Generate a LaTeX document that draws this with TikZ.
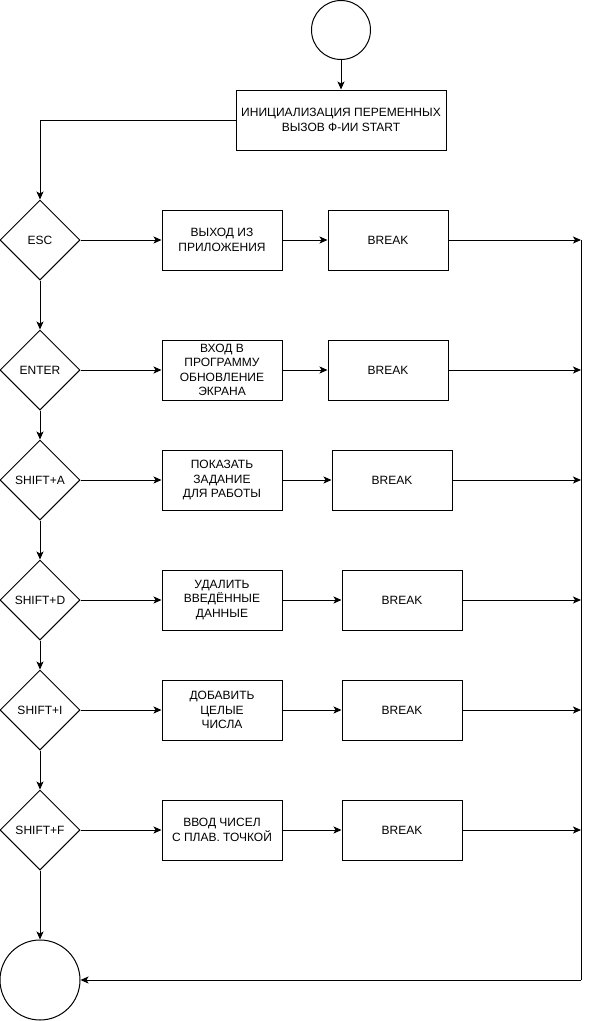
\documentclass[tikz,border=0pt]{standalone}
\usepackage{fontspec}
\setmainfont{Liberation Sans}
\usetikzlibrary{shapes.geometric,arrows.meta}
\begin{document}
\begin{tikzpicture}[x=1pt,y=-1pt,
  txt/.style={font=\fontsize{12}{14.5}\selectfont, align=center, text=black},
  terminal/.style={draw, circle, line width=1pt, inner sep=0pt},
  actbox/.style={txt, draw, rectangle, line width=1pt, minimum width=120pt, minimum height=60pt, inner sep=1pt},
  keytest/.style={txt, draw, diamond, aspect=1, line width=1pt, minimum width=80pt, minimum height=80pt, inner sep=0pt},
  flow/.style={line width=1pt, -{Stealth[length=8pt,width=7pt,inset=2pt]}},
  wire/.style={line width=1pt}
]
\useasboundingbox (0,0) rectangle (589,1021);

% start and initialisation
\node[terminal, minimum size=59pt] (start) at (341,30) {};
\node[actbox, minimum width=210pt] (init) at (341,120) {ИНИЦИАЛИЗАЦИЯ ПЕРЕМЕННЫХ\\ВЫЗОВ Ф-ИИ START};

% key tests
\node[keytest] (esc)    at (40,240) {ESC};
\node[keytest] (enter)  at (40,370) {ENTER};
\node[keytest] (shA)    at (40,480) {SHIFT+A};
\node[keytest] (shD)    at (40,600) {SHIFT+D};
\node[keytest] (shI)    at (40,710) {SHIFT+I};
\node[keytest] (shF)    at (40,830) {SHIFT+F};

% actions
\node[actbox] (aEsc)   at (222,240) {ВЫХОД ИЗ\\ПРИЛОЖЕНИЯ};
\node[actbox] (aEnter) at (222,370) {ВХОД В\\ПРОГРАММУ\\ОБНОВЛЕНИЕ\\ЭКРАНА};
\node[actbox] (aA)     at (222,480) {ПОКАЗАТЬ\\ЗАДАНИЕ\\ДЛЯ РАБОТЫ};
\node[actbox] (aD)     at (222,600) {УДАЛИТЬ\\ВВЕДЁННЫЕ\\ДАННЫЕ};
\node[actbox] (aI)     at (222,710) {ДОБАВИТЬ\\ЦЕЛЫЕ\\ЧИСЛА};
\node[actbox] (aF)     at (222,830) {ВВОД ЧИСЕЛ\\С ПЛАВ. ТОЧКОЙ};

% break boxes
\node[actbox] (bEsc)   at (388,240) {BREAK};
\node[actbox] (bEnter) at (388,370) {BREAK};
\node[actbox] (bA)     at (392,480) {BREAK};
\node[actbox] (bD)     at (402,600) {BREAK};
\node[actbox] (bI)     at (402,710) {BREAK};
\node[actbox] (bF)     at (402,830) {BREAK};

% end
\node[terminal, minimum size=80pt] (stop) at (40,980) {};

% collecting bus on the right
\coordinate (busTop) at (581,240);
\coordinate (busBot) at (581,980);

\draw[flow] (start) -- (init);
\draw[flow] (init.west) -| (esc.north);

\draw[flow] (esc) -- (enter);
\draw[flow] (enter) -- (shA);
\draw[flow] (shA) -- (shD);
\draw[flow] (shD) -- (shI);
\draw[flow] (shI) -- (shF);
\draw[flow] (shF) -- (stop);

\foreach \k/\a/\b in {esc/aEsc/bEsc, enter/aEnter/bEnter, shA/aA/bA, shD/aD/bD, shI/aI/bI, shF/aF/bF}{
  \draw[flow] (\k) -- (\a);
  \draw[flow] (\a) -- (\b);
  \draw[flow] (\b.east) -- (\b.east -| busTop);
}

\draw[wire] (busTop) -- (busBot);
\draw[flow] (busBot) -- (stop.east);
\end{tikzpicture}
\end{document}
